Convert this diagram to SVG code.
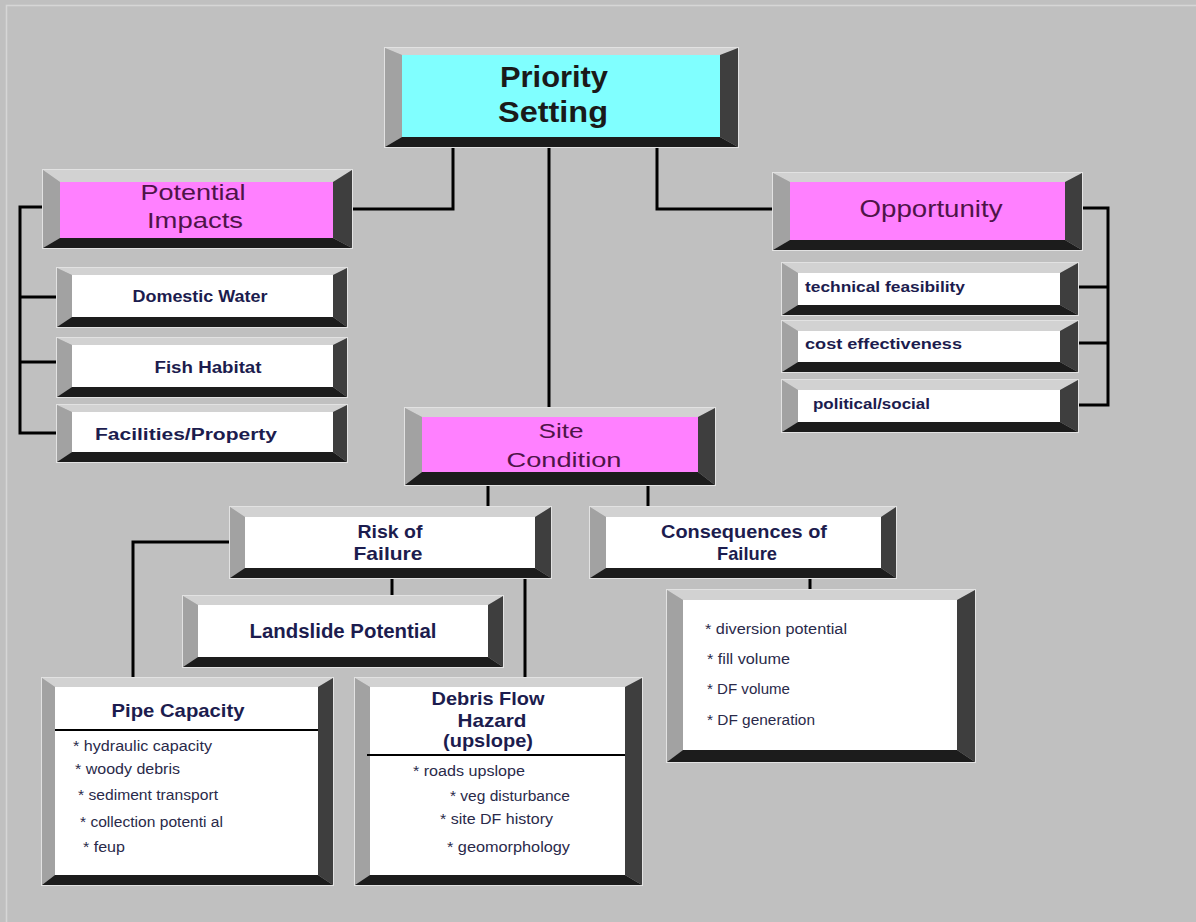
<svg xmlns="http://www.w3.org/2000/svg" width="1196" height="922" viewBox="0 0 1196 922">
<style>
.bt{fill:#d2d2d2}.bl{fill:#a2a2a2}.br{fill:#3e3e3e}.bb{fill:#1c1c1c}
.edge{fill:none;stroke:#e2e2e2;stroke-width:1}
.white{fill:#ffffff}.mag{fill:#ff80ff}.cyan{fill:#80ffff}
.t{font-family:"Liberation Sans",Arial,sans-serif;text-anchor:middle}
.tp{fill:#1a1a1a;font-weight:bold;font-size:30px}
.tm{fill:#4e1448;font-size:22px}
.tw{fill:#1c1c4e;font-weight:bold;font-size:16px}
.th{fill:#1c1c4e;font-weight:bold;font-size:19px}
.li{font-family:"Liberation Sans",Arial,sans-serif;fill:#2a2a4a;font-size:14px}
.conn{fill:none;stroke:#000;stroke-width:3}
.div{stroke:#000;stroke-width:2}
</style>
<rect x="0" y="0" width="1196" height="922" fill="#c0c0c0"/>
<path d="M6.5 922 V5.5 H1196" fill="none" stroke="#d6d6d6" stroke-width="1.5"/>

<g id="connectors">
<path class="conn" d="M352 209 H453 V148"/>
<path class="conn" d="M549 148 V408"/>
<path class="conn" d="M657 148 V209 H773"/>
<path class="conn" d="M43 207 H20 V433 H58 M20 297 H58 M20 362 H58"/>
<path class="conn" d="M1082 208 H1108 V405 H1076 M1108 287 H1078 M1108 343 H1078"/>
<path class="conn" d="M488 485 V507 M648 485 V507"/>
<path class="conn" d="M392 578 V596"/>
<path class="conn" d="M525 578 V678"/>
<path class="conn" d="M230 542 H133 V678"/>
<path class="conn" d="M810 578 V590"/>
</g>

<g id="priority-setting">
<polygon class="bt" points="385,48 738,48 720,55 402,55"/>
<polygon class="bl" points="385,48 402,55 402,137 385,147"/>
<polygon class="br" points="738,48 738,147 720,137 720,55"/>
<polygon class="bb" points="385,147 738,147 720,137 402,137"/>
<rect class="cyan" x="402" y="55" width="318" height="82"/>
<rect class="edge" x="384.5" y="47.5" width="354" height="100"/>
<text class="t tp" x="554" y="87" textLength="108" lengthAdjust="spacingAndGlyphs">Priority</text>
<text class="t tp" x="553" y="122" textLength="110" lengthAdjust="spacingAndGlyphs">Setting</text>
</g>

<g id="potential-impacts">
<polygon class="bt" points="43,170 352,170 333,182 60,182"/>
<polygon class="bl" points="43,170 60,182 60,238 43,248"/>
<polygon class="br" points="352,170 352,248 333,238 333,182"/>
<polygon class="bb" points="43,248 352,248 333,238 60,238"/>
<rect class="mag" x="60" y="182" width="273" height="56"/>
<rect class="edge" x="42.5" y="169.5" width="310" height="79"/>
<text class="t tm" x="193" y="200" textLength="105" lengthAdjust="spacingAndGlyphs">Potential</text>
<text class="t tm" x="195" y="228" textLength="96" lengthAdjust="spacingAndGlyphs">Impacts</text>
</g>

<g id="domestic-water">
<polygon class="bt" points="57,268 347,268 333,275 72,275"/>
<polygon class="bl" points="57,268 72,275 72,317 57,327"/>
<polygon class="br" points="347,268 347,327 333,317 333,275"/>
<polygon class="bb" points="57,327 347,327 333,317 72,317"/>
<rect class="white" x="72" y="275" width="261" height="42"/>
<rect class="edge" x="56.5" y="267.5" width="291" height="60"/>
<text class="t tw" x="200" y="302" textLength="135" lengthAdjust="spacingAndGlyphs">Domestic Water</text>
</g>

<g id="fish-habitat">
<polygon class="bt" points="57,338 347,338 333,345 72,345"/>
<polygon class="bl" points="57,338 72,345 72,387 57,397"/>
<polygon class="br" points="347,338 347,397 333,387 333,345"/>
<polygon class="bb" points="57,397 347,397 333,387 72,387"/>
<rect class="white" x="72" y="345" width="261" height="42"/>
<rect class="edge" x="56.5" y="337.5" width="291" height="60"/>
<text class="t tw" x="208" y="373" textLength="107" lengthAdjust="spacingAndGlyphs">Fish Habitat</text>
</g>

<g id="facilities-property">
<polygon class="bt" points="57,405 347,405 333,412 72,412"/>
<polygon class="bl" points="57,405 72,412 72,452 57,462"/>
<polygon class="br" points="347,405 347,462 333,452 333,412"/>
<polygon class="bb" points="57,462 347,462 333,452 72,452"/>
<rect class="white" x="72" y="412" width="261" height="40"/>
<rect class="edge" x="56.5" y="404.5" width="291" height="58"/>
<text class="t tw" x="186" y="440" textLength="182" lengthAdjust="spacingAndGlyphs">Facilities/Property</text>
</g>

<g id="opportunity">
<polygon class="bt" points="773,173 1082,173 1065,182 790,182"/>
<polygon class="bl" points="773,173 790,182 790,240 773,250"/>
<polygon class="br" points="1082,173 1082,250 1065,240 1065,182"/>
<polygon class="bb" points="773,250 1082,250 1065,240 790,240"/>
<rect class="mag" x="790" y="182" width="275" height="58"/>
<rect class="edge" x="772.5" y="172.5" width="310" height="78"/>
<text class="t tm" x="931" y="217" style="font-size:24px" textLength="143" lengthAdjust="spacingAndGlyphs">Opportunity</text>
</g>

<g id="technical-feasibility">
<polygon class="bt" points="782,263 1078,263 1060,273 798,273"/>
<polygon class="bl" points="782,263 798,273 798,305 782,315"/>
<polygon class="br" points="1078,263 1078,315 1060,305 1060,273"/>
<polygon class="bb" points="782,315 1078,315 1060,305 798,305"/>
<rect class="white" x="798" y="273" width="262" height="32"/>
<rect class="edge" x="781.5" y="262.5" width="297" height="53"/>
<text class="t tw" x="805" y="292" style="text-anchor:start;font-size:15px" textLength="160" lengthAdjust="spacingAndGlyphs">technical feasibility</text>
</g>

<g id="cost-effectiveness">
<polygon class="bt" points="782,321 1078,321 1060,331 798,331"/>
<polygon class="bl" points="782,321 798,331 798,362 782,372"/>
<polygon class="br" points="1078,321 1078,372 1060,362 1060,331"/>
<polygon class="bb" points="782,372 1078,372 1060,362 798,362"/>
<rect class="white" x="798" y="331" width="262" height="31"/>
<rect class="edge" x="781.5" y="320.5" width="297" height="52"/>
<text class="t tw" x="805" y="349" style="text-anchor:start;font-size:15px" textLength="157" lengthAdjust="spacingAndGlyphs">cost effectiveness</text>
</g>

<g id="political-social">
<polygon class="bt" points="782,380 1078,380 1060,390 798,390"/>
<polygon class="bl" points="782,380 798,390 798,422 782,432"/>
<polygon class="br" points="1078,380 1078,432 1060,422 1060,390"/>
<polygon class="bb" points="782,432 1078,432 1060,422 798,422"/>
<rect class="white" x="798" y="390" width="262" height="32"/>
<rect class="edge" x="781.5" y="379.5" width="297" height="53"/>
<text class="t tw" x="813" y="409" style="text-anchor:start;font-size:15px" textLength="117" lengthAdjust="spacingAndGlyphs">political/social</text>
</g>

<g id="site-condition">
<polygon class="bt" points="405,408 715,408 698,417 422,417"/>
<polygon class="bl" points="405,408 422,417 422,472 405,485"/>
<polygon class="br" points="715,408 715,485 698,472 698,417"/>
<polygon class="bb" points="405,485 715,485 698,472 422,472"/>
<rect class="mag" x="422" y="417" width="276" height="55"/>
<rect class="edge" x="404.5" y="407.5" width="311" height="78"/>
<text class="t tm" x="561" y="438" style="font-size:21px" textLength="45" lengthAdjust="spacingAndGlyphs">Site</text>
<text class="t tm" x="564" y="467" style="font-size:21px" textLength="115" lengthAdjust="spacingAndGlyphs">Condition</text>
</g>

<g id="risk-of-failure">
<polygon class="bt" points="230,507 551,507 535,517 245,517"/>
<polygon class="bl" points="230,507 245,517 245,568 230,578"/>
<polygon class="br" points="551,507 551,578 535,568 535,517"/>
<polygon class="bb" points="230,578 551,578 535,568 245,568"/>
<rect class="white" x="245" y="517" width="290" height="51"/>
<rect class="edge" x="229.5" y="506.5" width="322" height="72"/>
<text class="t th" x="390" y="538" textLength="65" lengthAdjust="spacingAndGlyphs">Risk of</text>
<text class="t th" x="388" y="560" textLength="69" lengthAdjust="spacingAndGlyphs">Failure</text>
</g>

<g id="consequences-of-failure">
<polygon class="bt" points="590,507 896,507 881,517 606,517"/>
<polygon class="bl" points="590,507 606,517 606,568 590,578"/>
<polygon class="br" points="896,507 896,578 881,568 881,517"/>
<polygon class="bb" points="590,578 896,578 881,568 606,568"/>
<rect class="white" x="606" y="517" width="275" height="51"/>
<rect class="edge" x="589.5" y="506.5" width="307" height="72"/>
<text class="t th" x="744" y="538" textLength="166" lengthAdjust="spacingAndGlyphs">Consequences of</text>
<text class="t th" x="747" y="560" textLength="60" lengthAdjust="spacingAndGlyphs">Failure</text>
</g>

<g id="landslide-potential">
<polygon class="bt" points="183,596 503,596 488,605 198,605"/>
<polygon class="bl" points="183,596 198,605 198,657 183,667"/>
<polygon class="br" points="503,596 503,667 488,657 488,605"/>
<polygon class="bb" points="183,667 503,667 488,657 198,657"/>
<rect class="white" x="198" y="605" width="290" height="52"/>
<rect class="edge" x="182.5" y="595.5" width="321" height="72"/>
<text class="t th" x="343" y="638" style="font-size:20px" textLength="187" lengthAdjust="spacingAndGlyphs">Landslide Potential</text>
</g>

<g id="consequences-list">
<polygon class="bt" points="667,590 975,590 957,600 683,600"/>
<polygon class="bl" points="667,590 683,600 683,750 667,762"/>
<polygon class="br" points="975,590 975,762 957,750 957,600"/>
<polygon class="bb" points="667,762 975,762 957,750 683,750"/>
<rect class="white" x="683" y="600" width="274" height="150"/>
<rect class="edge" x="666.5" y="589.5" width="309" height="173"/>
<text class="li" x="705" y="634" textLength="142" lengthAdjust="spacingAndGlyphs">* diversion potential</text>
<text class="li" x="707" y="664" textLength="83" lengthAdjust="spacingAndGlyphs">* fill volume</text>
<text class="li" x="707" y="694" textLength="83" lengthAdjust="spacingAndGlyphs">* DF volume</text>
<text class="li" x="707" y="725" textLength="108" lengthAdjust="spacingAndGlyphs">* DF generation</text>
</g>

<g id="pipe-capacity">
<polygon class="bt" points="42,678 333,678 318,687 55,687"/>
<polygon class="bl" points="42,678 55,687 55,875 42,885"/>
<polygon class="br" points="333,678 333,885 318,875 318,687"/>
<polygon class="bb" points="42,885 333,885 318,875 55,875"/>
<rect class="white" x="55" y="687" width="263" height="188"/>
<rect class="edge" x="41.5" y="677.5" width="292" height="208"/>
<text class="t th" x="178" y="717" textLength="133" lengthAdjust="spacingAndGlyphs">Pipe Capacity</text>
<line class="div" x1="55" y1="730" x2="318" y2="730"/>
<text class="li" x="73" y="751" textLength="139" lengthAdjust="spacingAndGlyphs">* hydraulic capacity</text>
<text class="li" x="75" y="774" textLength="105" lengthAdjust="spacingAndGlyphs">* woody debris</text>
<text class="li" x="78" y="800" textLength="140" lengthAdjust="spacingAndGlyphs">* sediment transport</text>
<text class="li" x="80" y="827" textLength="143" lengthAdjust="spacingAndGlyphs">* collection potenti al</text>
<text class="li" x="83" y="852" textLength="42" lengthAdjust="spacingAndGlyphs">* feup</text>
</g>

<g id="debris-flow-hazard">
<polygon class="bt" points="355,678 642,678 625,687 370,687"/>
<polygon class="bl" points="355,678 370,687 370,875 355,885"/>
<polygon class="br" points="642,678 642,885 625,875 625,687"/>
<polygon class="bb" points="355,885 642,885 625,875 370,875"/>
<rect class="white" x="370" y="687" width="255" height="188"/>
<rect class="edge" x="354.5" y="677.5" width="288" height="208"/>
<text class="t th" x="488" y="705" textLength="113" lengthAdjust="spacingAndGlyphs">Debris Flow</text>
<text class="t th" x="492" y="727" textLength="69" lengthAdjust="spacingAndGlyphs">Hazard</text>
<text class="t th" x="488" y="747" textLength="90" lengthAdjust="spacingAndGlyphs">(upslope)</text>
<line class="div" x1="367" y1="755" x2="625" y2="755"/>
<text class="li" x="413" y="776" textLength="112" lengthAdjust="spacingAndGlyphs">* roads upslope</text>
<text class="li" x="450" y="801" textLength="120" lengthAdjust="spacingAndGlyphs">* veg disturbance</text>
<text class="li" x="440" y="824" textLength="113" lengthAdjust="spacingAndGlyphs">* site DF history</text>
<text class="li" x="447" y="852" textLength="123" lengthAdjust="spacingAndGlyphs">* geomorphology</text>
</g>
</svg>
